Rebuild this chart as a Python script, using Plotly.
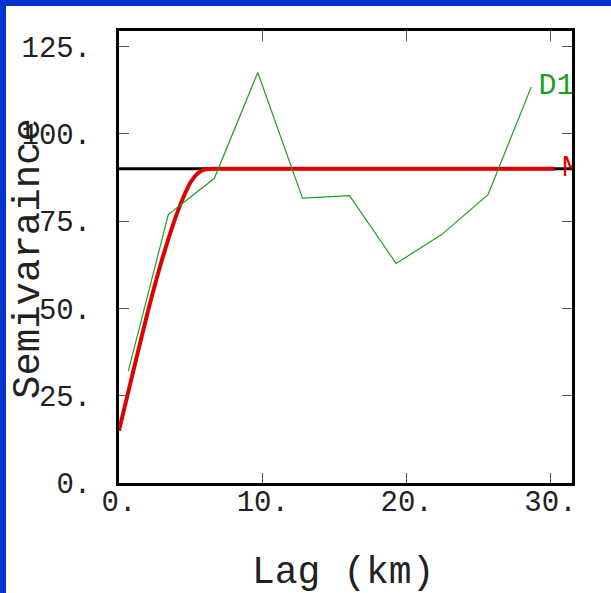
import plotly.graph_objects as go

# ---- data ----
D1_LAG = [0.65, 3.43, 6.63, 9.65, 12.76, 16.03, 19.27, 22.41, 25.66, 28.67]
D1_GAMMA = [32.1, 76.9, 87.3, 117.6, 81.6, 82.3, 62.9, 71.1, 82.6, 113.5]

MODEL_LAG = [0.0, 1.0, 2.0, 3.0, 4.0, 4.5, 5.0, 5.5, 6.0, 6.5, 30.3]
MODEL_GAMMA = [15.0, 32.2, 49.0, 64.1, 76.9, 82.1, 86.3, 88.8, 89.9, 90.0, 90.0]

SILL = 90.0

X_TICKS = [0, 10, 20, 30]
X_TICK_TEXT = ["0.", "10.", "20.", "30."]
Y_TICKS = [0, 25, 50, 75, 100, 125]
Y_TICK_TEXT = ["0.", "25.", "50.", "75.", "100.", "125."]

X_RANGE = [0, 31.5]
Y_RANGE = [0, 129.5]

LABEL_GAP = 0.5  # horizontal gap (data units) between a curve end and its label

FONT = "Liberation Mono, Courier New, monospace"
GREEN = "#1f9e1f"
RED = "#e00000"
BLUE = "#0033cc"
TEXT = "#222222"

W, H = 611, 593
L, R, T, B = 119, 39, 31, 110
PW, PH = W - L - R, H - T - B


def px_x(p):
    return (p - L) / PW


def px_y(p):
    return (T + PH - p) / PH


fig = go.Figure()

# sill line
fig.add_shape(type="line", xref="x", yref="y", x0=X_RANGE[0], x1=X_RANGE[1],
              y0=SILL, y1=SILL, line=dict(color="black", width=3), layer="below")

fig.add_trace(go.Scatter(x=MODEL_LAG, y=MODEL_GAMMA, mode="lines",
                         line=dict(color=RED, width=4, shape="spline", smoothing=0.6),
                         showlegend=False, hoverinfo="skip"))
fig.add_trace(go.Scatter(x=D1_LAG, y=D1_GAMMA, mode="lines",
                         line=dict(color=GREEN, width=1.2),
                         showlegend=False, hoverinfo="skip"))

# end labels (clipped by the plot frame)
fig.add_trace(go.Scatter(x=[D1_LAG[-1] + LABEL_GAP], y=[D1_GAMMA[-1]], mode="text",
                         text=["D1"], textposition="middle right", cliponaxis=True,
                         textfont=dict(family=FONT, size=30, color=GREEN),
                         showlegend=False, hoverinfo="skip"))
fig.add_trace(go.Scatter(x=[MODEL_LAG[-1] + LABEL_GAP], y=[MODEL_GAMMA[-1]], mode="text",
                         text=["M"], textposition="middle right", cliponaxis=True,
                         textfont=dict(family=FONT, size=30, color=RED),
                         showlegend=False, hoverinfo="skip"))

axis_common = dict(showline=True, linecolor="black", linewidth=3, mirror="allticks",
                   ticks="inside", ticklen=10, tickcolor="#555555", tickwidth=1,
                   showgrid=False, zeroline=False,
                   tickfont=dict(family=FONT, size=29, color=TEXT))

fig.update_xaxes(range=X_RANGE, tickvals=X_TICKS, ticktext=X_TICK_TEXT,
                 ticklabelstandoff=-10, **axis_common)
fig.update_yaxes(range=Y_RANGE, tickvals=Y_TICKS, ticktext=Y_TICK_TEXT,
                 ticklabelstandoff=19, **axis_common)

# blue border (left and top)
fig.add_shape(type="rect", xref="paper", yref="paper",
              x0=px_x(0), x1=px_x(6), y0=px_y(H), y1=px_y(0),
              fillcolor=BLUE, line=dict(width=0), layer="above")
fig.add_shape(type="rect", xref="paper", yref="paper",
              x0=px_x(0), x1=px_x(W), y0=px_y(6), y1=px_y(0),
              fillcolor=BLUE, line=dict(width=0), layer="above")

fig.add_annotation(text="Semivaraince", xref="paper", yref="paper",
                   x=px_x(29), y=px_y(259), textangle=-90,
                   xanchor="center", yanchor="middle", showarrow=False,
                   font=dict(family=FONT, size=39, color=TEXT))
fig.add_annotation(text="Lag (km)", xref="paper", yref="paper",
                   x=px_x(342.5), y=px_y(572), borderpad=0,
                   xanchor="center", yanchor="middle", showarrow=False,
                   font=dict(family=FONT, size=38, color=TEXT))

fig.update_layout(width=W, height=H, margin=dict(l=L, r=R, t=T, b=B),
                  paper_bgcolor="white", plot_bgcolor="white", showlegend=False)

fig.write_html("out.html", config={"displayModeBar": False},
               post_script="document.body.style.margin='0';"
                           "document.body.style.overflow='hidden';")
